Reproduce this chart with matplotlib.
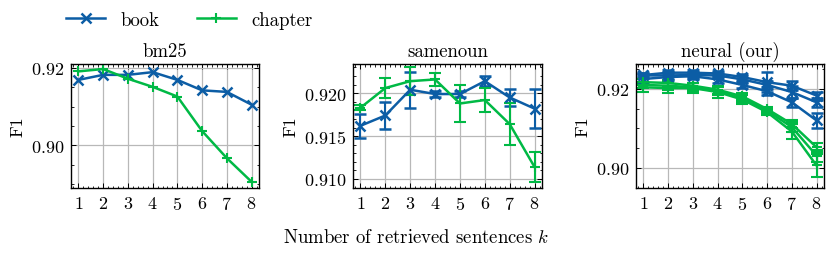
import matplotlib
matplotlib.use("Agg")
import matplotlib.pyplot as plt
from matplotlib.ticker import MultipleLocator

plt.rcParams['font.family'] = ['cmr10', 'DejaVu Serif']
plt.rcParams['mathtext.fontset'] = 'cm'
plt.rcParams['axes.formatter.use_mathtext'] = True
plt.rcParams['font.size'] = 13.5

k = [1, 2, 3, 4, 5, 6, 7, 8]
blue = '#0C5DA5'
green = '#00B945'

# bm25
bm25_book = [0.9169, 0.9182, 0.9182, 0.9189, 0.9169, 0.9142, 0.9138, 0.9105]
bm25_chapter = [0.9191, 0.9197, 0.9172, 0.9151, 0.9126, 0.9037, 0.8967, 0.8906]

# samenoun (mean, error)
sn_book = [0.9162, 0.9174, 0.9204, 0.9199, 0.9199, 0.9214, 0.9195, 0.9182]
sn_book_err = [0.0014, 0.0016, 0.0021, 0.0003, 0.0003, 0.0006, 0.0010, 0.0023]
sn_chapter = [0.9183, 0.9206, 0.9214, 0.9216, 0.9188, 0.9192, 0.9164, 0.9114]
sn_chapter_err = [0.0003, 0.0012, 0.0016, 0.0008, 0.0022, 0.0014, 0.0024, 0.0018]

# neural (our): three runs per granularity
nr_book = [
    [0.9235, 0.9241, 0.9241, 0.9239, 0.9230, 0.9217, 0.9208, 0.9183],
    [0.9234, 0.9234, 0.9235, 0.9234, 0.9224, 0.9210, 0.9192, 0.9166],
    [0.9225, 0.9230, 0.9232, 0.9224, 0.9210, 0.9194, 0.9166, 0.9120],
]
nr_book_err = [
    [0.0006, 0.0008, 0.0008, 0.0006, 0.0008, 0.0025, 0.0012, 0.0010],
    [0.0006, 0.0008, 0.0008, 0.0006, 0.0008, 0.0010, 0.0015, 0.0012],
    [0.0010, 0.0008, 0.0008, 0.0008, 0.0008, 0.0010, 0.0012, 0.0020],
]
nr_chapter = [
    [0.9217, 0.9215, 0.9208, 0.9198, 0.9181, 0.9149, 0.9111, 0.9052],
    [0.9210, 0.9208, 0.9204, 0.9194, 0.9176, 0.9145, 0.9103, 0.9031],
    [0.9204, 0.9202, 0.9202, 0.9192, 0.9173, 0.9141, 0.9092, 0.9006],
]
nr_chapter_err = [
    [0.0008, 0.0008, 0.0008, 0.0010, 0.0008, 0.0006, 0.0010, 0.0012],
    [0.0008, 0.0010, 0.0010, 0.0010, 0.0010, 0.0006, 0.0012, 0.0015],
    [0.0012, 0.0012, 0.0012, 0.0015, 0.0012, 0.0008, 0.0020, 0.0030],
]

fig = plt.figure(figsize=(8.31, 2.55), dpi=100)
W, H = 831, 255
boxes = [(71, 259), (353, 542), (636, 824)]
axes = [fig.add_axes([l / W, 1 - 189 / H, (r - l) / W, 124 / H]) for l, r in boxes]

lw = 1.8
eb = dict(lw=lw, capsize=4, capthick=1.5, elinewidth=1.5)

ax = axes[0]
ax.plot(k, bm25_book, color=blue, marker='x', ms=7, mew=1.8, lw=lw, label='book')
ax.plot(k, bm25_chapter, color=green, marker='+', ms=7, mew=1.5, lw=lw, label='chapter')
ax.set_ylim(0.889, 0.921)
ax.yaxis.set_major_locator(MultipleLocator(0.02))
ax.yaxis.set_minor_locator(MultipleLocator(0.005))
ax.set_title('bm25', fontsize=13.5)

ax = axes[1]
ax.errorbar(k, sn_book, yerr=sn_book_err, color=blue, marker='x', ms=7, mew=1.8, **eb)
ax.errorbar(k, sn_chapter, yerr=sn_chapter_err, color=green, marker='+', ms=7, mew=1.5, **eb)
ax.set_ylim(0.90895, 0.9234)
ax.yaxis.set_major_locator(MultipleLocator(0.005))
ax.yaxis.set_minor_locator(MultipleLocator(0.001))
ax.set_title('samenoun', fontsize=13.5)

ax = axes[2]
for ys, es in zip(nr_book, nr_book_err):
    ax.errorbar(k, ys, yerr=es, color=blue, marker='x', ms=7, mew=1.8, **eb)
for ys, es in zip(nr_chapter, nr_chapter_err):
    ax.errorbar(k, ys, yerr=es, color=green, marker='+', ms=7, mew=1.5, **eb)
ax.set_ylim(0.8949, 0.9263)
ax.yaxis.set_major_locator(MultipleLocator(0.02))
ax.yaxis.set_minor_locator(MultipleLocator(0.005))
ax.set_title('neural (our)', fontsize=13.5)

for ax in axes:
    ax.set_xlim(0.7, 8.3)
    ax.set_xticks(k)
    ax.xaxis.set_minor_locator(MultipleLocator(0.2))
    ax.grid(True, color='#b8b8b8', lw=0.9)
    ax.tick_params(which='both', direction='in', top=True, right=True, labelsize=13)
    ax.tick_params(which='major', length=3.5, width=0.7, pad=5)
    ax.tick_params(which='minor', length=1.8, width=0.6)
    ax.set_ylabel('F1', fontsize=13)
    for s in ax.spines.values():
        s.set_linewidth(1.0)

fig.legend(*axes[0].get_legend_handles_labels(), loc='center left', bbox_to_anchor=(49 / W, 1 - 21 / H),
           ncol=2, frameon=False, fontsize=13.5, handlelength=2.1, columnspacing=2.0, handletextpad=0.8)
fig.text(416 / W, 1 - 238 / H, 'Number of retrieved sentences $k$', ha='center', va='center', fontsize=13.5)

fig.savefig('out.png', dpi=100)
